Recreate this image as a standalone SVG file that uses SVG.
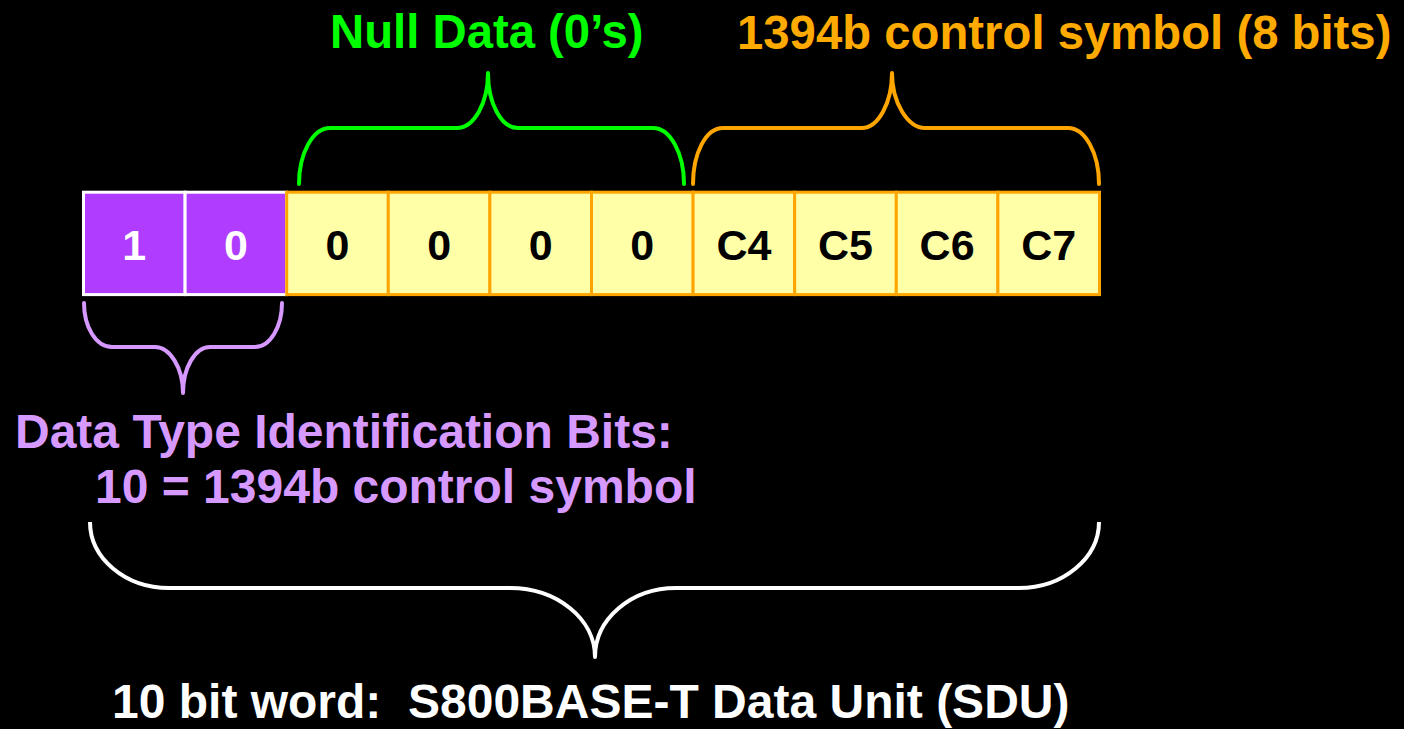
<svg xmlns="http://www.w3.org/2000/svg" width="1404" height="729" viewBox="0 0 1404 729">
  <style>
    text { font-family: "Liberation Sans", Arial, sans-serif; font-weight: bold; }
    .lbl { font-size: 48px; }
    .ttl { font-size: 47.3px; }
    .bit { font-size: 43px; text-anchor: middle; }
    .type { fill: #B03CFF; stroke: #FFFFFF; stroke-width: 3; }
    .data { fill: #FFFFA8; stroke: #FFA500; stroke-width: 3; }
    .brace { fill: none; stroke-width: 4; stroke-linecap: round; stroke-linejoin: round; }
  </style>

  <rect x="0" y="0" width="1404" height="729" fill="#000000"/>

  <!-- Titles above the word -->
  <g id="label-null">
    <text class="ttl" x="330" y="48" fill="#00FF00">Null Data (0’s)</text>
  </g>
  <g id="label-control">
    <text class="ttl" x="737" y="49" fill="#FFAA00">1394b control symbol (8 bits)</text>
  </g>

  <!-- Braces -->
  <g id="braces">
    <path class="brace" stroke="#00FF00" d="M299,184 C299,153 313,128 330,128 L457,128 C474,128 488,103 488,73 C488,103 501,128 518,128 L653,128 C670,128 684,153 684,184"/>
    <path class="brace" stroke="#FFA500" d="M693,184 C693,153 706,128 723,128 L862,128 C878,128 892,103 892,73 C892,103 908,128 925,128 L1068,128 C1085,128 1099,153 1099,184"/>
    <path class="brace" stroke="#D699FF" d="M84,303 C84,327 96,347 112,347 L155,347 C170,347 183,368 183,393 C183,368 195,347 210,347 L255,347 C270,347 282,327 282,303"/>
    <path class="brace" stroke="#FFFFFF" style="stroke-linecap:butt" d="M90,522 C90,558 125,588 169,588 L510,588 C557,588 595,619 595,657 C595,619 631,588 676,588 L1019,588 C1063,588 1099,558 1099,522"/>
  </g>

  <!-- Data type identification bits -->
  <g id="bit-1">
    <rect class="type" x="83.5" y="192.2" width="101.6" height="102.4"/>
    <text class="bit" x="134.3" y="260" fill="#FFFFFF">1</text>
  </g>
  <g id="bit-0">
    <rect class="type" x="185.1" y="192.2" width="101.6" height="102.4"/>
    <text class="bit" x="235.9" y="260" fill="#FFFFFF">0</text>
  </g>

  <!-- Null data bits -->
  <g id="null-0a">
    <rect class="data" x="286.7" y="192.2" width="101.6" height="102.4"/>
    <text class="bit" x="337.5" y="260" fill="#000000">0</text>
  </g>
  <g id="null-0b">
    <rect class="data" x="388.3" y="192.2" width="101.6" height="102.4"/>
    <text class="bit" x="439.1" y="260" fill="#000000">0</text>
  </g>
  <g id="null-0c">
    <rect class="data" x="489.9" y="192.2" width="101.6" height="102.4"/>
    <text class="bit" x="540.7" y="260" fill="#000000">0</text>
  </g>
  <g id="null-0d">
    <rect class="data" x="591.5" y="192.2" width="101.6" height="102.4"/>
    <text class="bit" x="642.3" y="260" fill="#000000">0</text>
  </g>

  <!-- Control symbol bits -->
  <g id="ctrl-c4">
    <rect class="data" x="693.1" y="192.2" width="101.6" height="102.4"/>
    <text class="bit" x="743.9" y="260" fill="#000000">C4</text>
  </g>
  <g id="ctrl-c5">
    <rect class="data" x="794.7" y="192.2" width="101.6" height="102.4"/>
    <text class="bit" x="845.5" y="260" fill="#000000">C5</text>
  </g>
  <g id="ctrl-c6">
    <rect class="data" x="896.3" y="192.2" width="101.6" height="102.4"/>
    <text class="bit" x="947.1" y="260" fill="#000000">C6</text>
  </g>
  <g id="ctrl-c7">
    <rect class="data" x="997.9" y="192.2" width="101.6" height="102.4"/>
    <text class="bit" x="1048.7" y="260" fill="#000000">C7</text>
  </g>

  <!-- Lower captions -->
  <g id="label-type">
    <text class="lbl" x="15" y="448" fill="#D699FF">Data Type Identification Bits:</text>
    <text class="lbl" x="95" y="503" fill="#D699FF">10 = 1394b control symbol</text>
  </g>
  <g id="label-word">
    <text class="lbl" x="112" y="718" fill="#FFFFFF" xml:space="preserve" style="white-space:pre">10 bit word:  S800BASE-T Data Unit (SDU)</text>
  </g>
</svg>
